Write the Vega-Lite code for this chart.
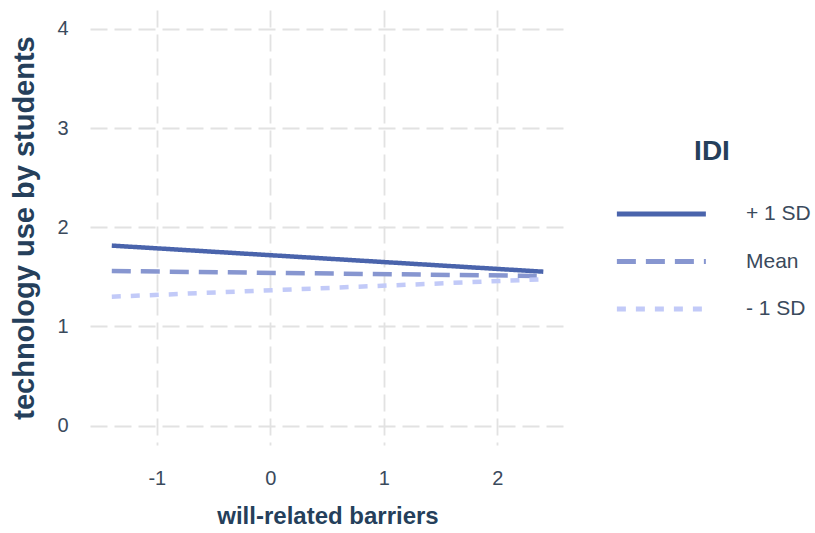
{
  "$schema": "https://vega.github.io/schema/vega-lite/v6.json",
  "width": 475,
  "height": 435,
  "autosize": {"type": "none"},
  "padding": {"left": 90, "top": 10, "right": 250, "bottom": 88},
  "background": "white",
  "config": {
    "view": {"stroke": null},
    "font": "Liberation Sans"
  },
  "data": {
    "values": [
      {"barriers": -1.397, "use": 1.815, "IDI": "+ 1 SD"},
      {"barriers": 2.405, "use": 1.552, "IDI": "+ 1 SD"},
      {"barriers": -1.397, "use": 1.559, "IDI": "Mean"},
      {"barriers": 2.405, "use": 1.509, "IDI": "Mean"},
      {"barriers": -1.397, "use": 1.300, "IDI": "- 1 SD"},
      {"barriers": 2.405, "use": 1.476, "IDI": "- 1 SD"}
    ]
  },
  "mark": {"type": "line", "strokeWidth": 4.5, "strokeCap": "butt"},
  "encoding": {
    "x": {
      "field": "barriers",
      "type": "quantitative",
      "scale": {"domain": [-1.589, 2.596], "nice": false, "zero": false},
      "axis": {
        "title": "will-related barriers",
        "values": [-1, 0, 1, 2],
        "labelExpr": "toString(datum.value)",
        "domain": false,
        "ticks": false,
        "grid": true,
        "gridColor": "#e2e2e2",
        "gridWidth": 1.8,
        "gridDash": [17, 7],
        "labelFont": "Liberation Sans",
        "labelFontSize": 20,
        "labelColor": "#3a4a5c",
        "labelPadding": 23,
        "titleFont": "Liberation Sans",
        "titleFontSize": 24,
        "titleFontWeight": "bold",
        "titleColor": "#253f5b",
        "titlePadding": 16
      }
    },
    "y": {
      "field": "use",
      "type": "quantitative",
      "scale": {"domain": [-0.195, 4.19], "nice": false, "zero": false},
      "axis": {
        "title": "technology use by students",
        "values": [0, 1, 2, 3, 4],
        "labelExpr": "toString(datum.value)",
        "domain": false,
        "ticks": false,
        "grid": true,
        "gridColor": "#e2e2e2",
        "gridWidth": 1.8,
        "gridDash": [17, 7],
        "labelFont": "Liberation Sans",
        "labelFontSize": 20,
        "labelColor": "#3a4a5c",
        "labelPadding": 22,
        "titleFont": "Liberation Sans",
        "titleFontSize": 29,
        "titleFontWeight": "bold",
        "titleColor": "#253f5b",
        "titlePadding": 17
      }
    },
    "color": {
      "field": "IDI",
      "type": "nominal",
      "sort": ["+ 1 SD", "Mean", "- 1 SD"],
      "scale": {"domain": ["+ 1 SD", "Mean", "- 1 SD"], "range": ["#4a64ac", "#8796d0", "#c2caf8"]},
      "legend": {
        "orient": "none",
        "legendX": 524,
        "legendY": 128,
        "title": "IDI",
        "titleFont": "Liberation Sans",
        "titleFontSize": 28,
        "titleFontWeight": "bold",
        "titleColor": "#253f5b",
        "titleAnchor": "middle",
        "titlePadding": 34,
        "symbolType": "M-1,0H7",
        "symbolSize": 495,
        "symbolStrokeWidth": 5,
        "labelFont": "Liberation Sans",
        "labelFontSize": 21,
        "labelColor": "#3a4a5c",
        "labelOffset": 104,
        "rowPadding": 23.5
      }
    },
    "strokeDash": {
      "field": "IDI",
      "type": "nominal",
      "sort": ["+ 1 SD", "Mean", "- 1 SD"],
      "scale": {"domain": ["+ 1 SD", "Mean", "- 1 SD"], "range": [[1, 0], [19, 10], [9, 10]]},
      "legend": null
    }
  }
}
